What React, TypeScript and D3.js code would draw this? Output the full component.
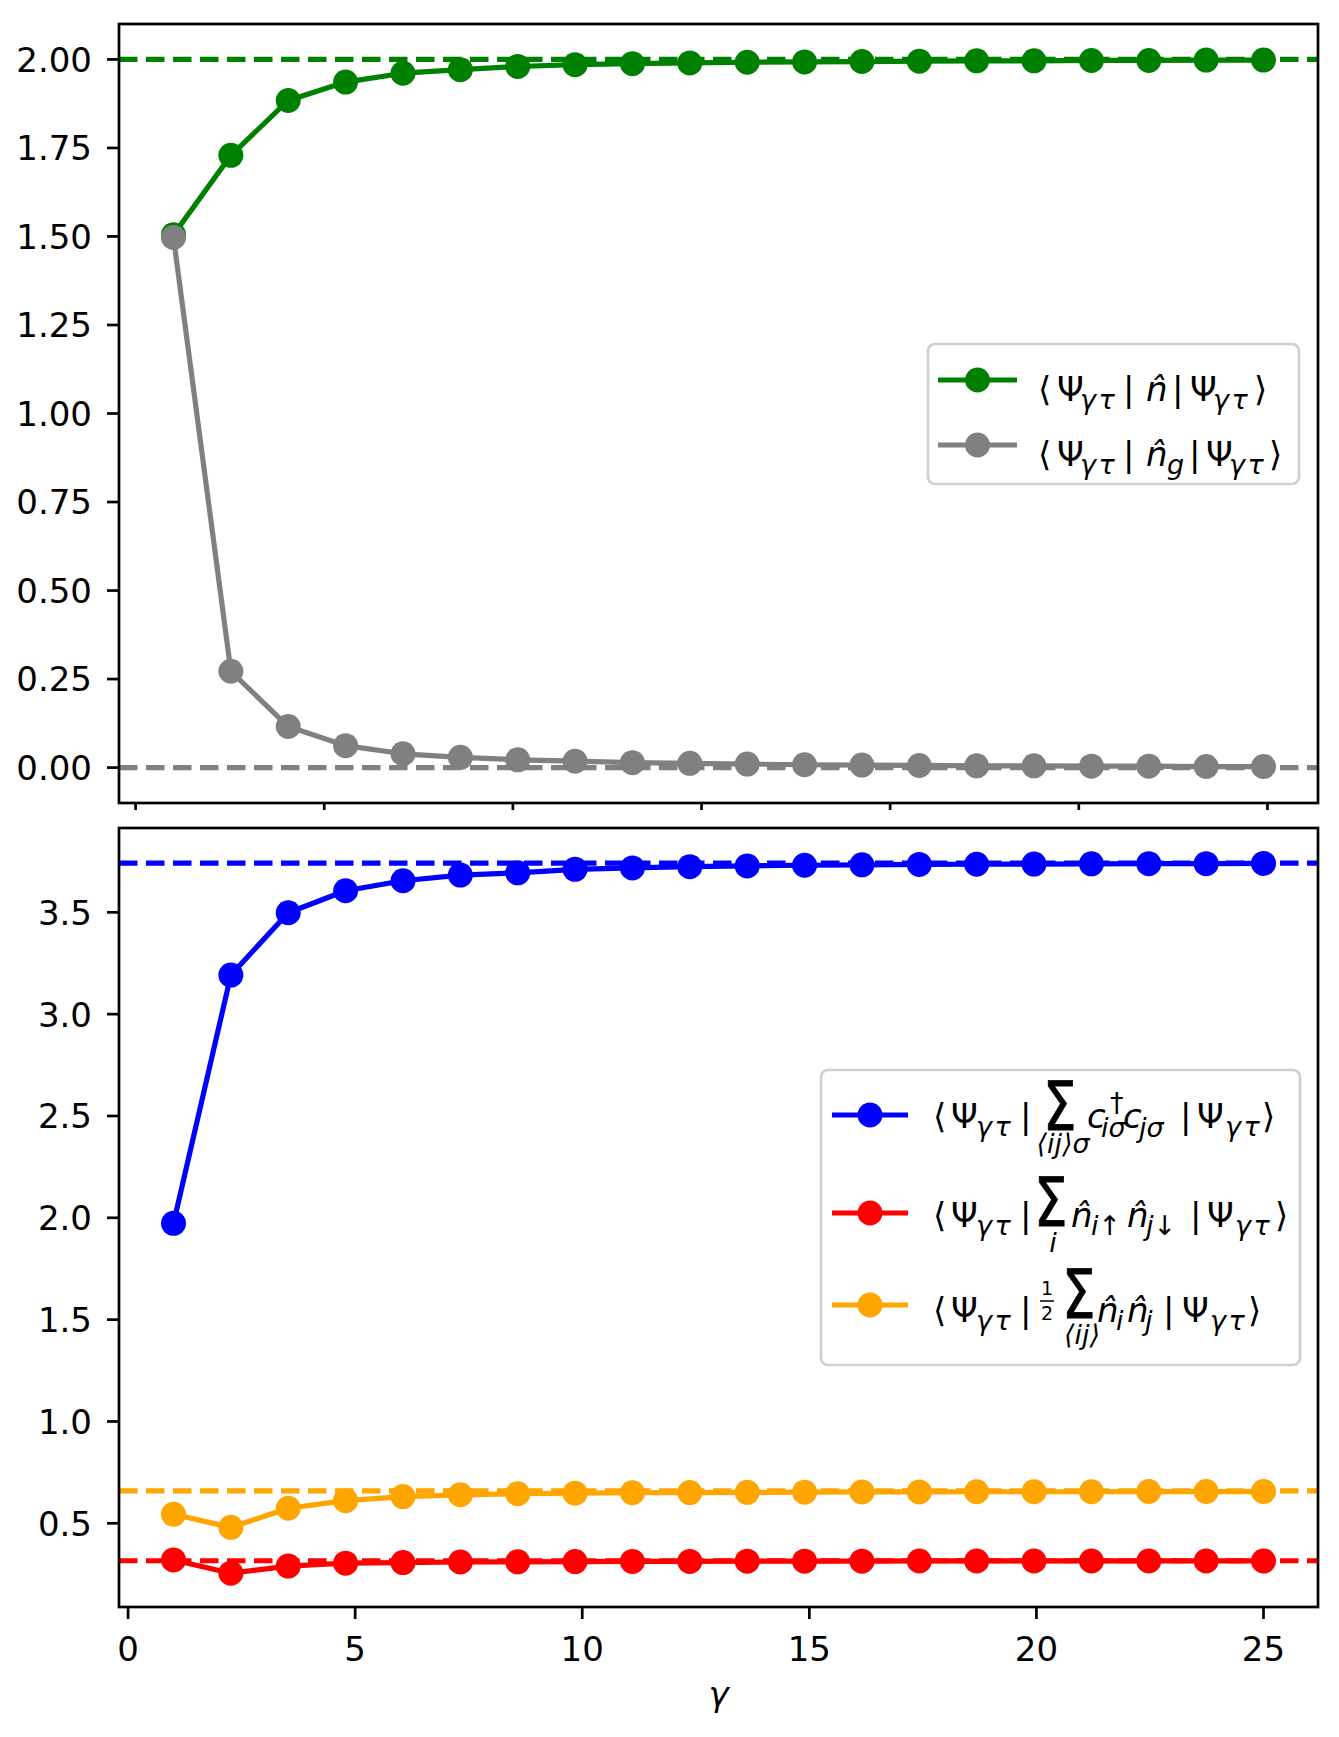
import React from 'react';
import * as d3 from 'd3';

// ---------------- data ----------------
const gamma = [1.0, 2.263, 3.526, 4.789, 6.053, 7.316, 8.579, 9.842, 11.105, 12.368, 13.632, 14.895, 16.158, 17.421, 18.684, 19.947, 21.211, 22.474, 23.737, 25.0];

const nTotal = [1.505, 1.729, 1.884, 1.936, 1.961, 1.971, 1.98, 1.985, 1.988, 1.99, 1.992, 1.993, 1.994, 1.995, 1.996, 1.996, 1.997, 1.997, 1.998, 1.998];
const nGhost = [1.497, 0.272, 0.116, 0.062, 0.039, 0.029, 0.022, 0.018, 0.014, 0.012, 0.01, 0.008, 0.007, 0.006, 0.005, 0.005, 0.004, 0.004, 0.003, 0.003];

const hopping = [1.973, 3.192, 3.498, 3.606, 3.655, 3.683, 3.694, 3.711, 3.718, 3.724, 3.728, 3.731, 3.733, 3.735, 3.736, 3.737, 3.738, 3.739, 3.739, 3.74];
const doubleOcc = [0.32, 0.255, 0.29, 0.304, 0.307, 0.31, 0.311, 0.312, 0.313, 0.313, 0.314, 0.314, 0.314, 0.315, 0.315, 0.315, 0.315, 0.315, 0.315, 0.315];
const nnCorr = [0.544, 0.48, 0.574, 0.611, 0.631, 0.64, 0.645, 0.648, 0.65, 0.651, 0.652, 0.653, 0.654, 0.654, 0.655, 0.655, 0.655, 0.656, 0.656, 0.656];

const topRefs = [2.0, 0.0];
const bottomRefs = [3.742, 0.316, 0.659];

const xTicks = [0, 5, 10, 15, 20, 25];
const xTickLabels = ['0', '5', '10', '15', '20', '25'];
const topXTicks = [0, 5, 10, 15, 20, 25, 30];
const topYTicks = [0, 0.25, 0.5, 0.75, 1.0, 1.25, 1.5, 1.75, 2.0];
const topYTickLabels = ['0.00', '0.25', '0.50', '0.75', '1.00', '1.25', '1.50', '1.75', '2.00'];
const botYTicks = [0.5, 1.0, 1.5, 2.0, 2.5, 3.0, 3.5];
const botYTickLabels = ['0.5', '1.0', '1.5', '2.0', '2.5', '3.0', '3.5'];
const xLabel = 'γ';

// ---------------- layout ----------------
const W = 1339;
const H = 1737;
const L = 119;
const R = 1318;
const TOP = { y0: 24, y1: 803 };
const BOT = { y0: 828, y1: 1607 };
const FONT = "'DejaVu Sans', 'Noto Sans', sans-serif";
const FS = 34;
const SUB = 27;
const LW = 5.2;
const AXW = 2.7;
const MR = 12.5;
const DASH = '18.5 8.5';

const x = d3.scaleLinear().domain([-0.2, 26.2]).range([L, R]);
const xTop = d3.scaleLinear().domain([-0.44, 31.34]).range([L, R]);
const yTop = d3.scaleLinear().domain([-0.1, 2.1]).range([TOP.y1, TOP.y0]);
const yBot = d3.scaleLinear().domain([0.089, 3.914]).range([BOT.y1, BOT.y0]);

type Piece = [number, number, string, number, boolean];

const Hat = 'n\u0302';

function MathText({ pieces }: { pieces: Piece[] }) {
  return (
    <g>
      {pieces.map((p, i) => (
        <text
          key={i}
          x={p[0]}
          y={p[1]}
          fontSize={p[3]}
          fontStyle={p[4] ? 'italic' : 'normal'}
          letterSpacing={p[2] === 'γτ' ? 2.5 : 0}
          fill="#000"
          fontFamily={FONT}
        >
          {p[2]}
        </text>
      ))}
    </g>
  );
}

function BigSigma({ x0, base }: { x0: number; base: number }) {
  return (
    <text
      transform={`translate(${x0},${base}) scale(0.78,1)`}
      fontSize={68}
      fontFamily={FONT}
      fill="#000"
      stroke="#000"
      strokeWidth={0.9}
    >
      Σ
    </text>
  );
}

function Series({ xs, ys, yScale, color }: { xs: number[]; ys: number[]; yScale: any; color: string }) {
  const line = d3
    .line<number>()
    .x((_, i) => x(xs[i]))
    .y((d) => yScale(d));
  return (
    <g>
      <path d={line(ys) || ''} fill="none" stroke={color} strokeWidth={LW} strokeLinejoin="round" />
      {ys.map((v, i) => (
        <circle key={i} cx={x(xs[i])} cy={yScale(v)} r={MR} fill={color} />
      ))}
    </g>
  );
}

function RefLine({ v, yScale, color }: { v: number; yScale: any; color: string }) {
  return (
    <line x1={L} x2={R} y1={yScale(v)} y2={yScale(v)} stroke={color} strokeWidth={LW} strokeDasharray={DASH} />
  );
}

function YAxis({ ticks, labels, yScale }: { ticks: number[]; labels: string[]; yScale: any }) {
  return (
    <g>
      {ticks.map((t, i) => (
        <g key={i}>
          <line x1={L - 12} x2={L} y1={yScale(t)} y2={yScale(t)} stroke="#000" strokeWidth={AXW} />
          <text x={L - 27} y={yScale(t) + 12.4} textAnchor="end" fontSize={FS} fontFamily={FONT} fill="#000">
            {labels[i]}
          </text>
        </g>
      ))}
    </g>
  );
}

function LegendHandle({ y, color, x0, x1 }: { y: number; color: string; x0: number; x1: number }) {
  return (
    <g>
      <line x1={x0} x2={x1} y1={y} y2={y} stroke={color} strokeWidth={LW} />
      <circle cx={(x0 + x1) / 2} cy={y} r={MR} fill={color} />
    </g>
  );
}

export default function App() {
  // top legend rows
  const t1 = 401;
  const t2 = 466;
  const topRow1: Piece[] = [
    [1038, t1, '⟨', FS, false],
    [1057, t1, 'Ψ', FS, false],
    [1080, t1 + 8, 'γτ', SUB, true],
    [1123, t1, '|', FS, false],
    [1146, t1, Hat, FS, true],
    [1172, t1, '|', FS, false],
    [1190, t1, 'Ψ', FS, false],
    [1213, t1 + 8, 'γτ', SUB, true],
    [1254, t1, '⟩', FS, false],
  ];
  const topRow2: Piece[] = [
    [1038, t2, '⟨', FS, false],
    [1057, t2, 'Ψ', FS, false],
    [1080, t2 + 8, 'γτ', SUB, true],
    [1123, t2, '|', FS, false],
    [1146, t2, Hat, FS, true],
    [1167, t2 + 8, 'g', SUB, true],
    [1189, t2, '|', FS, false],
    [1206, t2, 'Ψ', FS, false],
    [1229, t2 + 8, 'γτ', SUB, true],
    [1269, t2, '⟩', FS, false],
  ];

  const b1 = 1128;
  const b2 = 1227;
  const b3 = 1322;
  const botRow1: Piece[] = [
    [933, b1, '⟨', FS, false],
    [951, b1, 'Ψ', FS, false],
    [976, b1 + 8, 'γτ', SUB, true],
    [1020, b1, '|', FS, false],
    [1087, b1, 'c', FS, true],
    [1110, b1 - 16, '†', SUB, false],
    [1101, b1 + 9, 'iσ', SUB, true],
    [1123, b1, 'c', FS, true],
    [1139, b1 + 9, 'jσ', SUB, true],
    [1180, b1, '|', FS, false],
    [1197, b1, 'Ψ', FS, false],
    [1225, b1 + 8, 'γτ', SUB, true],
    [1262, b1, '⟩', FS, false],
  ];
  const botRow2: Piece[] = [
    [933, b2, '⟨', FS, false],
    [951, b2, 'Ψ', FS, false],
    [976, b2 + 8, 'γτ', SUB, true],
    [1020, b2, '|', FS, false],
    [1071, b2, Hat, FS, true],
    [1091, b2 + 8, 'i↑', SUB, true],
    [1127, b2, Hat, FS, true],
    [1146, b2 + 8, 'j↓', SUB, true],
    [1190, b2, '|', FS, false],
    [1207, b2, 'Ψ', FS, false],
    [1235, b2 + 8, 'γτ', SUB, true],
    [1275, b2, '⟩', FS, false],
  ];
  const botRow3: Piece[] = [
    [933, b3, '⟨', FS, false],
    [951, b3, 'Ψ', FS, false],
    [976, b3 + 8, 'γτ', SUB, true],
    [1020, b3, '|', FS, false],
    [1097, b3, Hat, FS, true],
    [1116, b3 + 8, 'i', SUB, true],
    [1127, b3, Hat, FS, true],
    [1145, b3 + 8, 'j', SUB, true],
    [1163, b3, '|', FS, false],
    [1182, b3, 'Ψ', FS, false],
    [1210, b3 + 8, 'γτ', SUB, true],
    [1248, b3, '⟩', FS, false],
  ];

  return (
    <svg
      width={W}
      height={H}
      viewBox={`0 0 ${W} ${H}`}
      style={{ position: 'absolute', left: 0, top: 0, background: '#fff' }}
      fontFamily={FONT}
    >
      <defs>
        <clipPath id="clipTop">
          <rect x={L} y={TOP.y0} width={R - L} height={TOP.y1 - TOP.y0} />
        </clipPath>
        <clipPath id="clipBot">
          <rect x={L} y={BOT.y0} width={R - L} height={BOT.y1 - BOT.y0} />
        </clipPath>
      </defs>
      <rect x={0} y={0} width={W} height={H} fill="#fff" />

      {/* ---------- top panel ---------- */}
      <g clipPath="url(#clipTop)">
        <RefLine v={topRefs[0]} yScale={yTop} color="green" />
        <RefLine v={topRefs[1]} yScale={yTop} color="gray" />
        <Series xs={gamma} ys={nTotal} yScale={yTop} color="green" />
        <Series xs={gamma} ys={nGhost} yScale={yTop} color="gray" />
      </g>
      <rect x={L} y={TOP.y0} width={R - L} height={TOP.y1 - TOP.y0} fill="none" stroke="#000" strokeWidth={AXW} />
      <YAxis ticks={topYTicks} labels={topYTickLabels} yScale={yTop} />
      {topXTicks.map((t) => (
        <line key={t} x1={xTop(t)} x2={xTop(t)} y1={TOP.y1} y2={TOP.y1 + 7} stroke="#000" strokeWidth={AXW} />
      ))}

      {/* top legend */}
      <rect x={928} y={344} width={371} height={140} rx={7} fill="#fff" fillOpacity={0.8} stroke="#d0d0d0" strokeWidth={AXW} />
      <LegendHandle y={380} color="green" x0={938} x1={1017} />
      <LegendHandle y={445} color="gray" x0={938} x1={1017} />
      <MathText pieces={topRow1} />
      <MathText pieces={topRow2} />

      {/* ---------- bottom panel ---------- */}
      <g clipPath="url(#clipBot)">
        <RefLine v={bottomRefs[0]} yScale={yBot} color="blue" />
        <RefLine v={bottomRefs[1]} yScale={yBot} color="red" />
        <RefLine v={bottomRefs[2]} yScale={yBot} color="orange" />
        <Series xs={gamma} ys={hopping} yScale={yBot} color="blue" />
        <Series xs={gamma} ys={doubleOcc} yScale={yBot} color="red" />
        <Series xs={gamma} ys={nnCorr} yScale={yBot} color="orange" />
      </g>
      <rect x={L} y={BOT.y0} width={R - L} height={BOT.y1 - BOT.y0} fill="none" stroke="#000" strokeWidth={AXW} />
      <YAxis ticks={botYTicks} labels={botYTickLabels} yScale={yBot} />
      {xTicks.map((t, i) => (
        <g key={t}>
          <line x1={x(t)} x2={x(t)} y1={BOT.y1} y2={BOT.y1 + 12} stroke="#000" strokeWidth={AXW} />
          <text x={x(t)} y={1661} textAnchor="middle" fontSize={FS} fontFamily={FONT} fill="#000">
            {xTickLabels[i]}
          </text>
        </g>
      ))}
      <text x={(L + R) / 2} y={1706} textAnchor="middle" fontSize={FS} fontStyle="italic" fontFamily={FONT} fill="#000">
        {xLabel}
      </text>

      {/* bottom legend */}
      <rect x={821} y={1070} width={479} height={295} rx={7} fill="#fff" fillOpacity={0.8} stroke="#d0d0d0" strokeWidth={AXW} />
      <LegendHandle y={1115} color="blue" x0={832} x1={908} />
      <LegendHandle y={1213} color="red" x0={832} x1={908} />
      <LegendHandle y={1305} color="orange" x0={832} x1={908} />

      <MathText pieces={botRow1} />
      <BigSigma x0={1043} base={1130} />
      <text x={1063} y={1153} textAnchor="middle" fontSize={SUB} fontStyle="italic" fontFamily={FONT}>⟨ij⟩σ</text>

      <MathText pieces={botRow2} />
      <BigSigma x0={1034} base={1226} />
      <text x={1053} y={1252} textAnchor="middle" fontSize={SUB} fontStyle="italic" fontFamily={FONT}>i</text>

      <MathText pieces={botRow3} />
      <text x={1047} y={1295} textAnchor="middle" fontSize={19} fontFamily={FONT}>1</text>
      <line x1={1040} x2={1054} y1={1301} y2={1301} stroke="#000" strokeWidth={1.5} />
      <text x={1047} y={1320} textAnchor="middle" fontSize={19} fontFamily={FONT}>2</text>
      <BigSigma x0={1062} base={1318} />
      <text x={1082} y={1344} textAnchor="middle" fontSize={SUB} fontStyle="italic" fontFamily={FONT}>⟨ij⟩</text>
    </svg>
  );
}
